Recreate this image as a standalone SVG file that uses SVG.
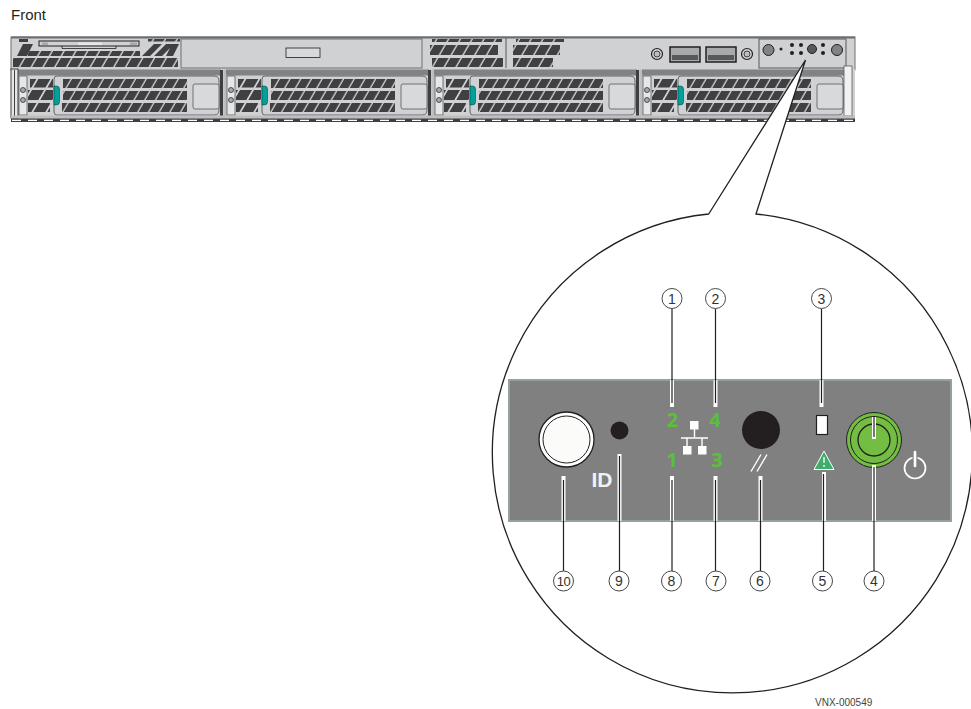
<svg xmlns="http://www.w3.org/2000/svg" xmlns:xlink="http://www.w3.org/1999/xlink" width="971" height="709" viewBox="0 0 971 709">
<style>
.sans{font-family:"Liberation Sans",Arial,sans-serif}
.num{font-family:"Liberation Sans",Arial,sans-serif;font-size:14px;text-anchor:middle;fill:#333}
.ring{fill:#fff;stroke:#333;stroke-width:0.9}
.halo{stroke:#fff;stroke-width:4;fill:none}
.lead{stroke:#231f20;stroke-width:1.2;fill:none}
.grn{font-family:"Open Sans","Liberation Sans",sans-serif;font-weight:700;font-size:20px;fill:#5cbf3a;text-anchor:middle}
.chs{fill:#d0d1d3;stroke:#6d6e71;stroke-width:1}
.dk{fill:#404042}
.knob{fill:#808285;stroke:#231f20;stroke-width:1}
.dot{fill:#231f20}
.slats{fill:url(#sl)}
.slats2{fill:url(#sl2)}
.slats3{fill:url(#sl3)}
</style>
<defs>
<pattern id="sl" width="10.7" height="40" patternUnits="userSpaceOnUse" patternTransform="skewX(-30)"><rect x="0" y="0" width="9.200" height="40" fill="#404042"/></pattern>
<pattern id="sl2" width="14" height="40" patternUnits="userSpaceOnUse" patternTransform="skewX(-30)"><rect x="0" y="0" width="12" height="40" fill="#404042"/></pattern>
<pattern id="sl3" width="11.800" height="40" patternUnits="userSpaceOnUse" patternTransform="skewX(-30)"><rect x="0" y="0" width="10.200" height="40" fill="#404042"/></pattern>
<g id="bay">
<rect x="18" y="69.500" width="203" height="6" fill="#808285"/>
<rect x="19" y="76" width="8" height="39" fill="#e6e7e8" stroke="#58595b" stroke-width="0.8"/>
<circle cx="23" cy="90" r="2.500" fill="#a7a9ac" stroke="#231f20" stroke-width="0.7"/>
<circle cx="23" cy="100" r="2.500" fill="#a7a9ac" stroke="#231f20" stroke-width="0.7"/>
<rect x="30" y="79" width="23" height="8.500" class="slats2"/>
<rect x="28" y="90" width="25" height="10" class="slats2"/>
<rect x="28" y="103" width="22" height="9" class="slats2"/>
<path d="M57,76H214q5,0 5,5V110q0,5 -5,5H57q-3,0 -3,-3V79q0,-3 3,-3z" fill="#d0d1d3" stroke="#58595b" stroke-width="0.9"/>
<path d="M54,86h2q3.500,0 3.500,3v13q0,3 -3.500,3h-2z" fill="#00a19a" stroke="#231f20" stroke-width="0.5"/>
<rect x="63" y="79" width="124" height="9" class="slats"/>
<rect x="63" y="91" width="124" height="9" class="slats"/>
<rect x="62" y="103" width="125" height="9" class="slats"/>
<rect x="193" y="84" width="26" height="25" rx="2" fill="#d8d9da" stroke="#58595b" stroke-width="0.8"/>
<rect x="220" y="70" width="3" height="48" fill="#3f3f41"/>
<rect x="223.500" y="69.500" width="3" height="49" fill="#bcbec0"/>
</g>
</defs>
<rect width="971" height="709" fill="#fff"/>
<text class="sans" x="11" y="20" font-size="15" fill="#231f20">Front</text>

<g id="chassis">
<rect class="chs" x="11" y="37" width="844" height="33"/>
<rect x="11" y="69" width="844" height="50" fill="#d0d1d3"/>
<rect x="11" y="36.500" width="844" height="2" fill="#6d6e71"/>
<rect x="19" y="39" width="9" height="3" class="dk"/>
<rect x="148" y="39" width="32" height="2.500" class="slats3"/>
<rect x="13" y="58" width="165" height="9" class="slats3"/>
<path d="M17,56L23,44H33L27,56z" class="dk"/>
<rect x="28" y="51" width="112" height="5" class="slats3"/>
<path d="M142,56L154,44H162L150,56zM154,56L166,44H174L162,56zM166,56L172,44H179L173,56z" class="dk"/>
<rect x="39" y="41" width="100" height="5" fill="#d0d1d3" stroke="#231f20" stroke-width="1"/>
<rect x="42" y="42.500" width="6" height="2.500" fill="#a7a9ac"/>
<rect x="78" y="42.500" width="24" height="2.500" fill="#e6e7e8"/>
<rect x="130" y="42.500" width="7" height="2.500" fill="#a7a9ac"/>
<path d="M62,46v2.500H116V46" fill="none" stroke="#231f20" stroke-width="0.8"/>
<rect class="chs" x="181" y="39" width="241" height="29"/>
<rect x="286" y="48" width="34" height="9.500" fill="#d8d9da" stroke="#231f20" stroke-width="0.8"/>
<rect x="432" y="39" width="70" height="3" class="slats3"/>
<rect x="430" y="45" width="68" height="10" class="slats3"/>
<rect x="432" y="58" width="71" height="9" class="slats3"/>
<line x1="506" y1="38" x2="506" y2="68" stroke="#58595b"/>
<rect x="516" y="39" width="48" height="3" class="slats3"/>
<rect x="513" y="45" width="47" height="10" class="slats3"/>
<rect x="513" y="58" width="40" height="9" class="slats3"/>
<circle cx="657" cy="54" r="5.500" fill="#d0d1d3" stroke="#231f20" stroke-width="1.200"/><circle cx="657" cy="54" r="3" fill="#bcbec0" stroke="#231f20" stroke-width="0.8"/>
<circle cx="747" cy="54" r="5.500" fill="#d0d1d3" stroke="#231f20" stroke-width="1.200"/><circle cx="747" cy="54" r="3" fill="#bcbec0" stroke="#231f20" stroke-width="0.8"/>
<rect x="670" y="47" width="30" height="15" fill="#a7a9ac" stroke="#231f20" stroke-width="1.500"/><rect x="672" y="55" width="26" height="5" fill="#58595b"/>
<rect x="706" y="47" width="30" height="15" fill="#a7a9ac" stroke="#231f20" stroke-width="1.500"/><rect x="708" y="55" width="26" height="5" fill="#58595b"/>
<rect x="759" y="39" width="87" height="29" fill="#d0d1d3" stroke="#58595b" stroke-width="1"/>
<circle cx="768.500" cy="50" r="5.500" class="knob"/>
<circle cx="781" cy="49" r="1.500" class="dot"/>
<circle cx="792" cy="45" r="2" class="dot"/><circle cx="792" cy="53" r="2" class="dot"/>
<circle cx="801" cy="45" r="2" class="dot"/><circle cx="801" cy="53" r="2" class="dot"/>
<circle cx="812" cy="49" r="4.500" fill="#58595b" stroke="#231f20"/>
<circle cx="823" cy="45" r="2" class="dot"/><circle cx="823" cy="53" r="2" class="dot"/>
<circle cx="837" cy="50" r="5.500" class="knob"/>
<use xlink:href="#bay" href="#bay"/>
<use xlink:href="#bay" href="#bay" x="208"/>
<use xlink:href="#bay" href="#bay" x="416"/>
<use xlink:href="#bay" href="#bay" x="624"/>
<rect x="11" y="69" width="7" height="49" fill="#e6e7e8" stroke="#3f3f41" stroke-width="1"/>
<rect x="14" y="70" width="1" height="48" fill="#3f3f41"/>
<rect x="844" y="66" width="8" height="50" fill="#f1f2f2" stroke="#58595b" stroke-width="0.8"/>
<rect x="11" y="115.500" width="844" height="3" fill="#bcbec0"/>
<rect x="11" y="118.500" width="844" height="3.500" fill="#3f3f41"/>
<line x1="12" y1="120.300" x2="855" y2="120.300" stroke="#fff" stroke-width="1.200" stroke-dasharray="9 7"/>
</g>

<g id="callout">
<path d="M708.700,214L805.500,60L756,214A240,240 0 1 1 708.700,214Z" fill="#fff" stroke="#231f20" stroke-width="1.300"/>
</g>

<g id="panel">
<rect x="509" y="380" width="442" height="141" fill="#808080" stroke="#93a39b" stroke-width="2"/>
</g>

<g id="id-button">
<circle cx="566.500" cy="439.500" r="27.500" fill="#fff" stroke="#231f20" stroke-width="1.300"/>
<circle cx="566.500" cy="439.500" r="23.500" fill="#fbfbf9" stroke="#231f20" stroke-width="1"/>
<text class="sans" x="602" y="487" font-size="21" font-weight="700" fill="#f1f1f1" text-anchor="middle">ID</text>
</g>
<g id="nmi-hole"><circle cx="619.500" cy="430.500" r="9" fill="#231f20"/></g>
<g id="network-leds">
<text class="grn" x="672.500" y="427">2</text>
<text class="grn" x="715" y="427">4</text>
<text class="grn" x="672" y="467">1</text>
<text class="grn" x="717" y="467">3</text>
<rect x="690" y="421" width="8.500" height="8.500" fill="#fff"/>
<rect x="683" y="446" width="8.500" height="8.500" fill="#fff"/>
<rect x="698" y="446" width="8.500" height="8.500" fill="#fff"/>
<path d="M694.500,429v8M681,438h27M687,438v8M702,438v8" fill="none" stroke="#fff" stroke-width="1.400"/>
</g>
<g id="reset-button">
<circle cx="761" cy="430" r="19" fill="#231f20"/>
<path d="M751,471.500L761,454.500M757,471.500L767,454.500" stroke="#fff" stroke-width="1.400" fill="none"/>
</g>
<g id="status-led">
<rect x="816.500" y="415.500" width="11" height="19" fill="#fff" stroke="#231f20" stroke-width="1.200"/>
<path d="M824,451L834,469.500H814Z" fill="#3fae6a" stroke="#fff" stroke-width="1"/>
<path d="M824,457v6M824,465v2" stroke="#fff" stroke-width="1.300"/>
</g>
<g id="power-button">
<circle cx="874" cy="440" r="27.500" fill="#74bd43" stroke="#231f20" stroke-width="1"/>
<circle cx="874" cy="440" r="23.500" fill="#74bd43" stroke="#231f20" stroke-width="1"/>
<circle cx="874" cy="440" r="16" fill="#74bd43" stroke="#231f20" stroke-width="1.300"/>
<circle cx="915" cy="468" r="10.500" fill="none" stroke="#fff" stroke-width="1.700"/>
<path d="M915,453V468" stroke="#808080" stroke-width="5"/>
<path d="M915,452V466" stroke="#fff" stroke-width="2.600" stroke-linecap="round"/>
</g>

<g id="connectors">
<path class="halo" d="M672,380V407M715.500,380V407M821.500,380V407M874,417V439M874,465V521M824,472V521M760.500,476V521M715.500,476V521M672,476V521M619.500,454V521M563.500,476V521"/>
<path class="lead" d="M672,309V403M715.500,309V403M821.500,309V403M874,417V437M874,467V571M823.500,474V571M760.500,480V571M715.500,480V571M672,480V571M619.500,456V571M563.500,480V571"/>
</g>

<g id="label-1"><circle class="ring" cx="672" cy="298.500" r="10"/><text class="num" x="672" y="303.500">1</text></g>
<g id="label-2"><circle class="ring" cx="715.500" cy="298.500" r="10"/><text class="num" x="715.500" y="303.500">2</text></g>
<g id="label-3"><circle class="ring" cx="821.500" cy="298.500" r="10"/><text class="num" x="821.500" y="303.500">3</text></g>
<g id="label-4"><circle class="ring" cx="874" cy="581" r="10"/><text class="num" x="874" y="586">4</text></g>
<g id="label-5"><circle class="ring" cx="822.500" cy="581" r="10"/><text class="num" x="822.500" y="586">5</text></g>
<g id="label-6"><circle class="ring" cx="760" cy="581" r="10"/><text class="num" x="760" y="586">6</text></g>
<g id="label-7"><circle class="ring" cx="716" cy="581" r="10"/><text class="num" x="716" y="586">7</text></g>
<g id="label-8"><circle class="ring" cx="671.500" cy="581" r="10"/><text class="num" x="671.500" y="586">8</text></g>
<g id="label-9"><circle class="ring" cx="619" cy="581" r="10"/><text class="num" x="619" y="586">9</text></g>
<g id="label-10"><circle class="ring" cx="563.500" cy="581" r="10"/><text class="num" x="563.500" y="586" style="font-size:13px;letter-spacing:-0.5px">10</text></g>
<text class="sans" x="815" y="706" font-size="10" fill="#444">VNX-000549</text>
</svg>
